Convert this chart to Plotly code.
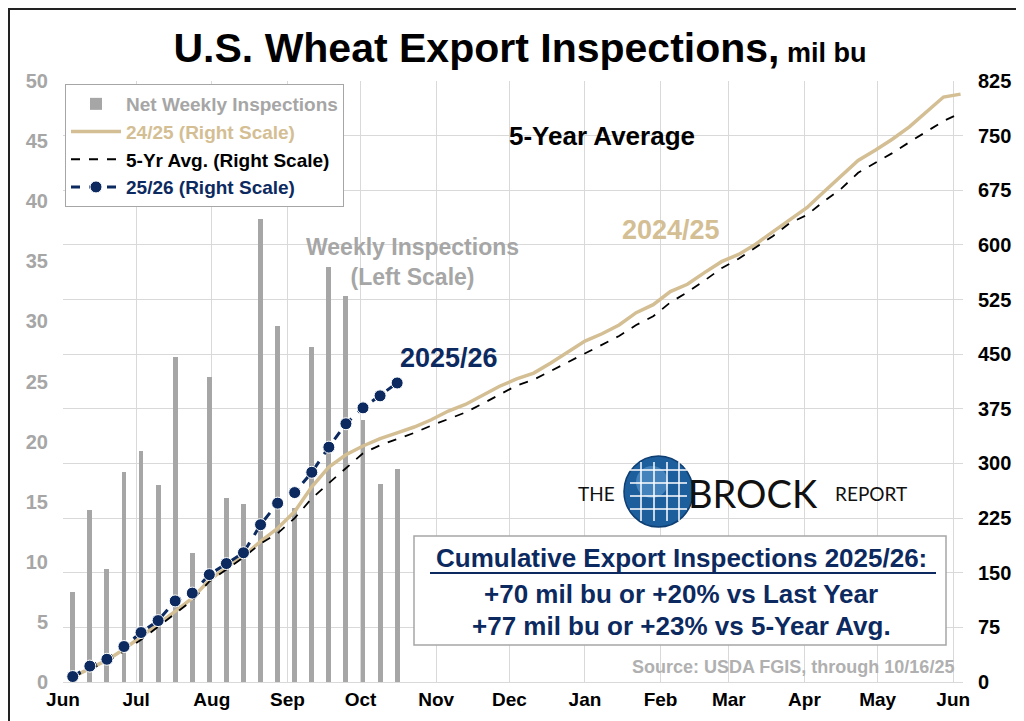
import pandas as pd
import plotly.graph_objects as go

# --- Data (mil bu), weeks ending Thursday ---
weeks_2526 = pd.date_range('2025-06-05', periods=20, freq='7D')
weeks_all = pd.date_range('2025-06-05', periods=53, freq='7D')

# Net weekly inspections 2025/26 (left scale)
weekly_2526 = [7.5, 14.3, 9.4, 17.5, 19.2, 16.4, 27.0, 10.7, 25.4, 15.3,
               14.8, 38.5, 29.6, 14.5, 27.9, 34.5, 32.1, 21.8, 16.5, 17.7]

# Cumulative 2025/26 (right scale)
cum_2526 = [7.5, 21.8, 31.2, 48.7, 67.9, 84.3, 111.3, 122.0, 147.4, 162.6,
            177.4, 215.9, 245.5, 260.0, 287.9, 322.4, 354.5, 376.3, 392.8, 410.5]

# Cumulative 2024/25 (right scale)
cum_2425 = [7, 18, 30, 45, 62, 80, 97, 115, 140, 157,
            173, 193, 211, 234, 268, 295, 312, 324, 334, 342,
            350, 360, 372, 381, 394, 406, 416, 424, 438, 453,
            468, 478, 490, 507, 518, 536, 546, 562, 577, 587,
            601, 618, 635, 651, 673, 695, 716, 730, 745, 762,
            783, 803, 807]

# Cumulative 5-year average (right scale)
cum_5yr = [7, 17, 28, 42, 58, 76, 94, 112, 138, 155,
           171, 190, 204, 225, 252, 273, 294, 314, 325, 333,
           342, 352, 361, 370, 382, 395, 407, 415, 427, 440,
           452, 463, 475, 490, 502, 521, 535, 551, 568, 581,
           596, 612, 630, 641, 660, 677, 699, 712, 726, 741,
           755, 770, 781]

left_ticks = list(range(0, 51, 5))
right_ticks = list(range(0, 826, 75))

GRAY = '#A6A6A6'
TAN = '#D4BE93'
NAVY = '#0C2A5F'
FONT = 'Liberation Sans'

# plot area in pixels (for placing text/decor)
L, R, T, B = 55, 955, 73, 674
def px(x):
    return (x - L) / (R - L)
def py(y):
    return (B - y) / (B - T)

fig = go.Figure()

fig.add_trace(go.Bar(
    x=weeks_2526, y=weekly_2526,
    name=f"<span style='color:{GRAY}'>Net Weekly Inspections</span>",
    marker=dict(color=GRAY, line_width=0),
    width=2 * 86400000, yaxis='y'))

fig.add_trace(go.Scatter(
    x=weeks_all, y=cum_2425, mode='lines',
    name=f"<span style='color:{TAN}'>24/25 (Right Scale)</span>",
    line=dict(color=TAN, width=3.5), yaxis='y2'))

fig.add_trace(go.Scatter(
    x=weeks_all, y=cum_5yr, mode='lines',
    name="<span style='color:black'>5-Yr Avg. (Right Scale)</span>",
    line=dict(color='black', width=1.8, dash='dash'), yaxis='y2'))

fig.add_trace(go.Scatter(
    x=weeks_2526, y=cum_2526, mode='lines+markers',
    name=f"<span style='color:{NAVY}'>25/26 (Right Scale)</span>",
    line=dict(color=NAVY, width=3, dash='dash'),
    marker=dict(size=12, color=NAVY, line=dict(color='white', width=1)),
    yaxis='y2'))

fig.update_layout(
    width=1024, height=721,
    margin=dict(l=L, r=1024 - R, t=T, b=721 - B),
    paper_bgcolor='white', plot_bgcolor='white',
    font=dict(family=FONT, size=17, color='black'),
    title=dict(
        text="<b>U.S. Wheat Export Inspections,</b><span style='font-size:27px'><b> mil bu</b></span>",
        x=0.5, xanchor='center', y=1 - 40 / 721, yanchor='middle',
        font=dict(family=FONT, size=41, color='black')),
    showlegend=True,
    legend=dict(x=px(57), y=py(76), xanchor='left', yanchor='top',
                bgcolor='white', bordercolor=GRAY, borderwidth=1,
                font=dict(family=FONT, size=19, weight='bold'),
                traceorder='normal', itemwidth=50, tracegroupgap=0),
    bargap=0,
    xaxis=dict(
        type='date', range=['2025-06-01', '2026-06-05'],
        tick0='2025-06-01', dtick='M1', tickformat='%b',
        showgrid=True, gridcolor='#D9D9D9', gridwidth=1,
        showline=True, linecolor='#D9D9D9', ticks='', ticklabelstandoff=0,
        tickfont=dict(family=FONT, size=19, weight='bold', color='black'),
        zeroline=False),
    yaxis=dict(
        range=[0, 50], tickvals=left_ticks, showgrid=False, zeroline=False,
        tickfont=dict(family=FONT, size=20, weight='bold', color=GRAY),
        ticks='', ticklabelstandoff=14,
        minor=dict(tick0=0, dtick=50 / 11, showgrid=True,
                   gridcolor='#D9D9D9', gridwidth=1, ticks='')),
    yaxis2=dict(
        range=[0, 825], tickvals=right_ticks, overlaying='y', side='right',
        showgrid=False, zeroline=False, ticks='', ticklabelstandoff=14,
        tickfont=dict(family=FONT, size=20, weight='bold', color='black')),
)

annotations = [
    dict(x=px(594), y=py(128), text='<b>5-Year Average</b>',
         font=dict(size=26, color='black')),
    dict(x=px(663), y=py(222), text='<b>2024/25</b>',
         font=dict(size=27, color=TAN)),
    dict(x=px(404), y=py(254), text='<b>Weekly Inspections<br>(Left Scale)</b>',
         font=dict(size=23, color=GRAY)),
    dict(x=px(441), y=py(350), text='<b>2025/26</b>',
         font=dict(size=27, color=NAVY)),
    dict(x=px(588), y=py(485), text='THE',
         font=dict(family='Lato', size=19, color='#111111')),
    dict(x=px(745), y=py(485), text='BROCK',
         font=dict(family='Lato', size=38, color='#111111')),
    dict(x=px(863), y=py(485), text='REPORT',
         font=dict(family='Lato', size=19, color='#111111')),
    dict(x=px(673), y=py(550), text='<b>Cumulative Export Inspections 2025/26:</b>',
         font=dict(size=26, color=NAVY)),
    dict(x=px(673), y=py(586), text='<b>+70 mil bu or +20% vs Last Year</b>',
         font=dict(size=26, color=NAVY)),
    dict(x=px(673), y=py(618), text='<b>+77 mil bu or +23% vs 5-Year Avg.</b>',
         font=dict(size=26, color=NAVY)),
    dict(x=px(948), y=py(659), xanchor='right',
         text='<b>Source: USDA FGIS, through 10/16/25</b>',
         font=dict(size=18, color='#B0B0B0')),
]
for a in annotations:
    a.setdefault('xanchor', 'center')
    a.update(xref='paper', yref='paper', yanchor='middle', showarrow=False)
    a['font'].setdefault('family', FONT)
fig.update_layout(annotations=annotations)

shapes = [
    # summary box
    dict(type='rect', x0=px(406), x1=px(938), y0=py(637), y1=py(528),
         line=dict(color=GRAY, width=1.5), fillcolor='white', layer='above'),
    dict(type='line', x0=px(422), x1=px(928), y0=py(565), y1=py(565),
         line=dict(color=NAVY, width=2), layer='above'),
    # globe logo
    dict(type='circle', x0=px(616), x1=px(685), y0=py(519), y1=py(448),
         fillcolor='#1D5E9C', line=dict(color='#0E3E72', width=1.5), layer='above'),
    dict(type='circle', x0=px(628), x1=px(660), y0=py(490), y1=py(458),
         fillcolor='#5E9BD0', line_width=0, opacity=0.6, layer='above'),
    # image frame
    dict(type='rect', x0=px(1), x1=px(1023), y0=py(720), y1=py(1),
         line=dict(color='#222222', width=2), layer='above'),
]
for yy in [462, 475, 488, 501]:
    shapes.append(dict(type='line', x0=px(622), x1=px(679), y0=py(yy), y1=py(yy),
                       line=dict(color='white', width=1.5), layer='above'))
for xx in [633, 646, 659, 671]:
    shapes.append(dict(type='line', x0=px(xx), x1=px(xx), y0=py(454), y1=py(513),
                       line=dict(color='white', width=1.5), layer='above'))
for s in shapes:
    s.update(xref='paper', yref='paper')
fig.update_layout(shapes=shapes)

fig.write_html("out.html")
